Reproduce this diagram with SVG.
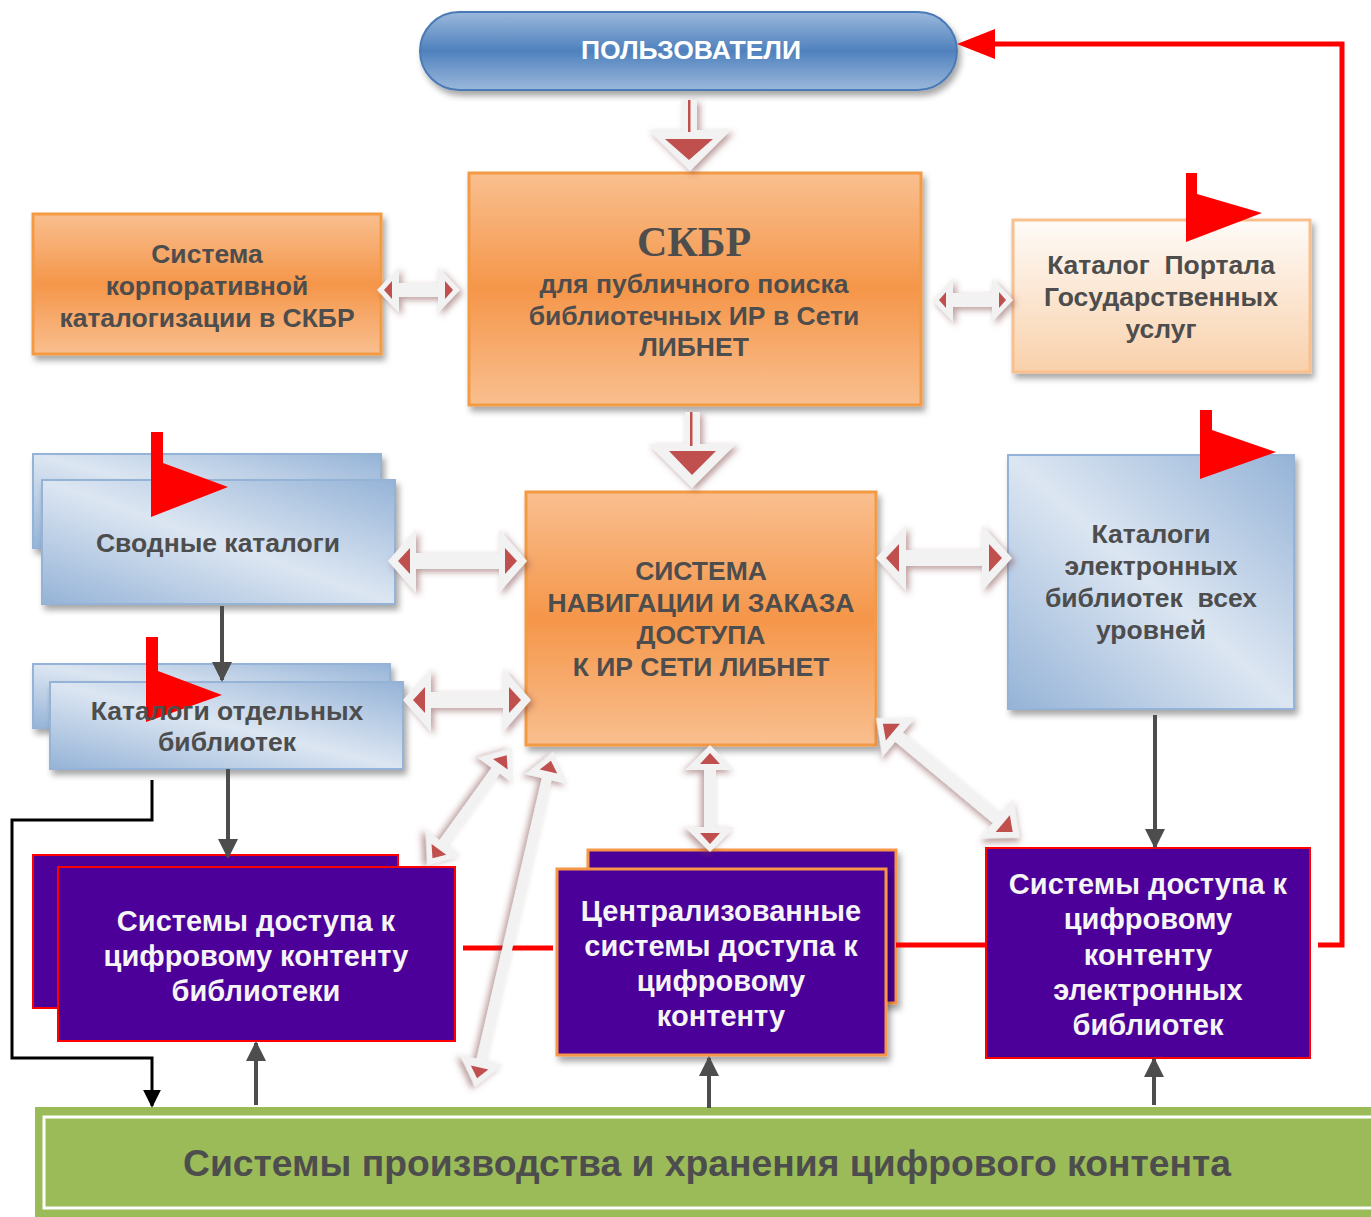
<svg xmlns="http://www.w3.org/2000/svg" width="1371" height="1217" viewBox="0 0 1371 1217">
<defs>
<style>
.t{font-family:"Liberation Sans",Arial,sans-serif;font-weight:bold;fill:#4d4d4d;text-anchor:middle;font-size:26.5px}
.w{font-family:"Liberation Sans",Arial,sans-serif;font-weight:bold;fill:#f5f5f5;text-anchor:middle;font-size:29px}
.pre{white-space:pre}
.ha{fill:#f2f2f2;filter:url(#ash)}
.rt{fill:#c0504d}
.gl{stroke:#4d4d4d;stroke-width:4;fill:none;marker-end:url(#mg)}
.rl{stroke:#ff0000;stroke-width:5;fill:none}
.flag{fill:#ff0000}
.purp{fill:#4c0099}
</style>
<linearGradient id="gOr" x1="0" y1="0" x2="0" y2="1">
<stop offset="0" stop-color="#f9bf8f"/><stop offset="0.5" stop-color="#f5964a"/><stop offset="1" stop-color="#f9bf8f"/>
</linearGradient>
<linearGradient id="gPe" x1="0" y1="0" x2="0" y2="1">
<stop offset="0" stop-color="#fefbf8"/><stop offset="1" stop-color="#f9d1ab"/>
</linearGradient>
<linearGradient id="gBl" x1="0" y1="1" x2="1" y2="0">
<stop offset="0" stop-color="#95b3d7"/><stop offset="0.5" stop-color="#dce6f2"/><stop offset="1" stop-color="#95b3d7"/>
</linearGradient>
<linearGradient id="gPill" x1="0" y1="0" x2="0" y2="1">
<stop offset="0" stop-color="#9bb8dc"/><stop offset="0.5" stop-color="#4f81bd"/><stop offset="1" stop-color="#9bb8dc"/>
</linearGradient>
<filter id="bsh" x="-10%" y="-10%" width="130%" height="140%">
<feDropShadow dx="3" dy="5" stdDeviation="3" flood-color="#000" flood-opacity="0.35"/>
</filter>
<filter id="ash" x="-30%" y="-30%" width="160%" height="160%">
<feDropShadow dx="3" dy="3" stdDeviation="3" flood-color="#7a3a3a" flood-opacity="0.5"/>
</filter>
<marker id="mg" viewBox="0 0 10 10" refX="9" refY="5" markerWidth="5" markerHeight="5" orient="auto" markerUnits="strokeWidth">
<path d="M0,0 L10,5 L0,10 z" fill="#4d4d4d"/>
</marker>
<marker id="mb" viewBox="0 0 10 10" refX="9" refY="5" markerWidth="6" markerHeight="6" orient="auto" markerUnits="strokeWidth">
<path d="M0,0 L10,5 L0,10 z" fill="#000"/>
</marker>
</defs>
<rect width="1371" height="1217" fill="#ffffff"/>

<g id="users">
<rect x="420" y="12" width="537" height="78" rx="39" fill="url(#gPill)" stroke="#4a7ab5" stroke-width="2" filter="url(#bsh)"/>
<text x="691" y="59" class="t" style="fill:#fff;font-size:26.5px">ПОЛЬЗОВАТЕЛИ</text>
</g>

<g id="skbr">
<rect x="469" y="173" width="452" height="232" fill="url(#gOr)" stroke="#f39a45" stroke-width="3" filter="url(#bsh)"/>
<text x="694" y="256" class="t" style="font-family:'Liberation Serif','Times New Roman',serif;font-size:42px">СКБР</text>
<text x="694" y="293" class="t">для публичного поиска</text>
<text x="694" y="325" class="t">библиотечных ИР в Сети</text>
<text x="694" y="356" class="t">ЛИБНЕТ</text>
</g>

<g id="corp">
<rect x="33" y="214" width="348" height="140" fill="url(#gOr)" stroke="#f39a45" stroke-width="3" filter="url(#bsh)"/>
<text x="207" y="263" class="t">Система</text>
<text x="207" y="295" class="t">корпоративной</text>
<text x="207" y="327" class="t">каталогизации в СКБР</text>
</g>

<g id="portal">
<rect x="1013" y="220" width="297" height="152" fill="url(#gPe)" stroke="#f9c08f" stroke-width="3" filter="url(#bsh)"/>
<polygon class="flag" points="1186,173 1197,173 1197,194 1262,213 1186,242"/>
<text x="1161" y="274" class="t pre">Каталог  Портала</text>
<text x="1161" y="306" class="t">Государственных</text>
<text x="1161" y="338" class="t">услуг</text>
</g>

<g id="nav">
<rect x="526" y="492" width="350" height="253" fill="url(#gOr)" stroke="#f39a45" stroke-width="3" filter="url(#bsh)"/>
<text x="701" y="580" class="t">СИСТЕМА</text>
<text x="701" y="612" class="t">НАВИГАЦИИ И ЗАКАЗА</text>
<text x="701" y="644" class="t">ДОСТУПА</text>
<text x="701" y="676" class="t">К ИР СЕТИ ЛИБНЕТ</text>
</g>

<g id="svodnye">
<rect x="33" y="454" width="348" height="94" fill="url(#gBl)" stroke="#95b3d7" stroke-width="2" filter="url(#bsh)"/>
<rect x="42" y="480" width="353" height="124" fill="url(#gBl)" stroke="#95b3d7" stroke-width="2" filter="url(#bsh)"/>
<polygon class="flag" points="151,432 163,432 163,463 228,487 151,517"/>
<text x="218" y="552" class="t">Сводные каталоги</text>
</g>

<g id="otdel">
<rect x="33" y="664" width="357" height="64" fill="url(#gBl)" stroke="#95b3d7" stroke-width="2" filter="url(#bsh)"/>
<rect x="50" y="682" width="353" height="87" fill="url(#gBl)" stroke="#95b3d7" stroke-width="2" filter="url(#bsh)"/>
<polygon class="flag" points="146,637 158,637 158,671 222,695 146,722"/>
<text x="227" y="720" class="t">Каталоги отдельных</text>
<text x="227" y="751" class="t">библиотек</text>
</g>

<g id="elcat">
<rect x="1008" y="455" width="286" height="254" fill="url(#gBl)" stroke="#95b3d7" stroke-width="2" filter="url(#bsh)"/>
<polygon class="flag" points="1200,410 1212,410 1212,430 1276,452 1200,479"/>
<text x="1151" y="543" class="t">Каталоги</text>
<text x="1151" y="575" class="t">электронных</text>
<text x="1151" y="607" class="t pre">библиотек  всех</text>
<text x="1151" y="639" class="t">уровней</text>
</g>

<g id="libaccess">
<rect x="33" y="855" width="365" height="153" class="purp" stroke="#ff0000" stroke-width="2"/>
<rect x="58" y="867" width="397" height="174" class="purp" stroke="#ff0000" stroke-width="2"/>
<text x="256" y="931" class="w">Системы доступа к</text>
<text x="256" y="966" class="w">цифровому контенту</text>
<text x="256" y="1001" class="w">библиотеки</text>
</g>

<g id="central">
<rect x="588" y="850" width="308" height="153" class="purp" stroke="#f79646" stroke-width="3" filter="url(#bsh)"/>
<rect x="557" y="869" width="329" height="186" class="purp" stroke="#f79646" stroke-width="3" filter="url(#bsh)"/>
<text x="721" y="921" class="w">Централизованные</text>
<text x="721" y="956" class="w">системы доступа к</text>
<text x="721" y="991" class="w">цифровому</text>
<text x="721" y="1026" class="w">контенту</text>
</g>

<g id="elaccess">
<rect x="986" y="848" width="324" height="210" class="purp" stroke="#ff0000" stroke-width="2"/>
<text x="1148" y="894" class="w">Системы доступа к</text>
<text x="1148" y="929" class="w">цифровому</text>
<text x="1148" y="965" class="w">контенту</text>
<text x="1148" y="1000" class="w">электронных</text>
<text x="1148" y="1035" class="w">библиотек</text>
</g>

<g id="storage">
<rect x="35" y="1107" width="1346" height="110" fill="#9bbb59"/>
<rect x="44" y="1117" width="1340" height="91" fill="none" stroke="#ffffff" stroke-width="3"/>
<text x="707" y="1176" class="t" style="font-size:37px" textLength="1048" lengthAdjust="spacingAndGlyphs">Системы производства и хранения цифрового контента</text>
</g>

<g id="connectors">
<path class="rl" d="M463,948 H553"/>
<path class="rl" d="M896,945 H986"/>
<path class="rl" d="M1318,945 H1342 V44 H990"/>
<polygon points="957,44 995,29 995,59" fill="#ff0000"/>
<path d="M152,780 V820 H12 V1058 H152 V1106" stroke="#000" stroke-width="3" fill="none" marker-end="url(#mb)"/>
<path class="gl" d="M222,606 V680"/>
<path class="gl" d="M228,769 V857"/>
<path class="gl" d="M1155,715 V847"/>
<path class="gl" d="M256,1105 V1043"/>
<path class="gl" d="M709,1108 V1058"/>
<path class="gl" d="M1154,1105 V1059"/>
<g filter="url(#ash)">
<rect x="682" y="100" width="15" height="32" fill="#f2f2f2"/>
<polygon points="648,130 731,130 690,171" fill="#f2f2f2"/>
</g>
<rect x="688" y="100" width="2.5" height="32" fill="#c0504d"/>
<polygon class="rt" points="665,139 713,139 689,160"/>
<g filter="url(#ash)">
<rect x="685" y="412" width="15" height="34" fill="#f2f2f2"/>
<polygon points="648,444 736,444 692,488" fill="#f2f2f2"/>
</g>
<rect x="690" y="412" width="2.5" height="34" fill="#c0504d"/>
<polygon class="rt" points="669,451 716,451 692,475"/>
<g transform="translate(377,290)">
<polygon class="ha" points="0,0 22,-23 22,-7 61,-7 61,-23 83,0 61,23 61,7 22,7 22,23"/>
<polygon class="rt" points="7,0 15,-9 15,9"/><polygon class="rt" points="76,0 68,-9 68,9"/>
</g>
<g transform="translate(932,300)">
<polygon class="ha" points="0,0 21,-22 21,-7 60,-7 60,-22 81,0 60,22 60,7 21,7 21,22"/>
<polygon class="rt" points="7,0 14,-8 14,8"/><polygon class="rt" points="74,0 67,-8 67,8"/>
</g>
<g transform="translate(388,561)">
<polygon class="ha" points="0,0 28,-32 28,-8 111,-8 111,-32 139,0 111,32 111,8 28,8 28,32"/>
<polygon class="rt" points="10,0 22,-13 22,13"/><polygon class="rt" points="129,0 117,-13 117,13"/>
</g>
<g transform="translate(403,700)">
<polygon class="ha" points="0,0 28,-32 28,-8 100,-8 100,-32 128,0 100,32 100,8 28,8 28,32"/>
<polygon class="rt" points="10,0 22,-13 22,13"/><polygon class="rt" points="118,0 106,-13 106,13"/>
</g>
<g transform="translate(876,558)">
<polygon class="ha" points="0,0 30,-33 30,-8 106,-8 106,-33 136,0 106,33 106,8 30,8 30,33"/>
<polygon class="rt" points="10,0 23,-14 23,14"/><polygon class="rt" points="126,0 113,-14 113,14"/>
</g>
<g transform="translate(710,745) rotate(90)">
<polygon class="ha" points="0,0 25,-25 25,-6 82,-6 82,-25 107,0 82,25 82,6 25,6 25,25"/>
<polygon class="rt" points="8,0 19,-10 19,10"/><polygon class="rt" points="99,0 88,-10 88,10"/>
</g>
<g transform="translate(876,718) rotate(39.8)">
<polygon class="ha" points="0,0 30,-26 30,-6 157,-6 157,-26 187,0 157,26 157,6 30,6 30,26"/>
<polygon class="rt" points="9,0 22,-11 22,11"/><polygon class="rt" points="178,0 165,-11 165,11"/>
</g>
<g transform="translate(512,748) rotate(125.8)">
<polygon class="ha" points="0,0 28,-22 28,-5 117,-5 117,-22 145,0 117,22 117,5 28,5 28,22"/>
<polygon class="rt" points="9,0 20,-9 20,9"/><polygon class="rt" points="136,0 125,-9 125,9"/>
</g>
<g transform="translate(553,752) rotate(103.1)">
<polygon class="ha" points="0,0 28,-22 28,-5 316,-5 316,-22 344,0 316,22 316,5 28,5 28,22"/>
<polygon class="rt" points="9,0 20,-9 20,9"/><polygon class="rt" points="335,0 324,-9 324,9"/>
</g>
</g>
</svg>
